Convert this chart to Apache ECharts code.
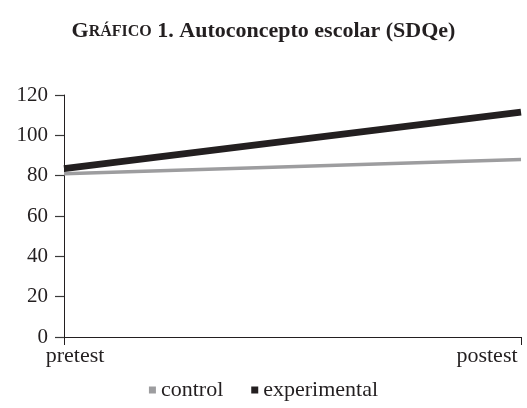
<!DOCTYPE html>
<html>
<head>
<meta charset="utf-8">
<script src="https://cdn.jsdelivr.net/npm/echarts@6/dist/echarts.min.js"></script>
<style>
html,body{margin:0;padding:0;background:#fff;}
#chart{width:527px;height:408px;}
</style>
</head>
<body>
<div id="chart"></div>
<script>
var categories = ['pretest', 'postest'];
var controlValues = [81, 88];
var experimentalValues = [83.5, 111.5];
var yTicks = [0, 20, 40, 60, 80, 100, 120];

var FONT = '"Liberation Serif", "DejaVu Serif", serif';
var chart = echarts.init(document.getElementById('chart'));
chart.setOption({
  backgroundColor: '#ffffff',
  animation: false,
  title: {
    text: '{a|G}{b|RÁFICO}{c| 1. Autoconcepto escolar (SDQe)}',
    left: 'center',
    top: 11,
    textStyle: {
      rich: {
        a: {fontFamily: FONT, fontWeight: 'bold', fontSize: 22, color: '#231f20', verticalAlign: 'bottom', lineHeight: 26},
        b: {fontFamily: FONT, fontWeight: 'bold', fontSize: 16, color: '#231f20', verticalAlign: 'bottom', padding: [0, 0, 2, 0]},
        c: {fontFamily: FONT, fontWeight: 'bold', fontSize: 22, color: '#231f20', verticalAlign: 'bottom', lineHeight: 26}
      }
    }
  },
  legend: {
    bottom: 2,
    left: 'center',
    icon: 'rect',
    itemWidth: 7,
    itemHeight: 7,
    itemGap: 28,
    textStyle: {fontFamily: FONT, fontSize: 22, color: '#231f20'},
    data: ['control', 'experimental']
  },
  grid: {left: 64, right: 6, top: 95, bottom: 71},
  xAxis: {
    type: 'category',
    data: categories,
    boundaryGap: false,
    axisLine: {lineStyle: {color: '#231f20', width: 1}},
    axisTick: {show: true, length: 8, lineStyle: {color: '#231f20'}},
    axisLabel: {
      margin: 8,
      fontFamily: FONT,
      fontSize: 22,
      color: '#231f20',
      formatter: function (v) { return v === 'pretest' ? '{a|' + v + '}' : '{b|' + v + '}'; },
      rich: {
        a: {fontFamily: FONT, fontSize: 22, color: '#231f20', padding: [0, 0, 0, 22]},
        b: {fontFamily: FONT, fontSize: 22, color: '#231f20', padding: [0, 68, 0, 0]}
      }
    }
  },
  yAxis: {
    type: 'value',
    min: yTicks[0],
    max: yTicks[yTicks.length - 1],
    interval: 20,
    splitLine: {show: false},
    axisLine: {show: true, lineStyle: {color: '#231f20', width: 1}},
    axisTick: {show: true, length: 9, lineStyle: {color: '#3a3a3a', width: 1.2}},
    axisLabel: {margin: 16, fontFamily: FONT, fontSize: 21, color: '#231f20'}
  },
  series: [
    {
      name: 'control',
      type: 'line',
      data: controlValues,
      symbol: 'none',
      color: '#9d9d9f',
      lineStyle: {color: '#9d9d9f', width: 3.5}
    },
    {
      name: 'experimental',
      type: 'line',
      data: experimentalValues,
      symbol: 'none',
      color: '#231f20',
      lineStyle: {color: '#231f20', width: 7}
    }
  ]
});
</script>
</body>
</html>
